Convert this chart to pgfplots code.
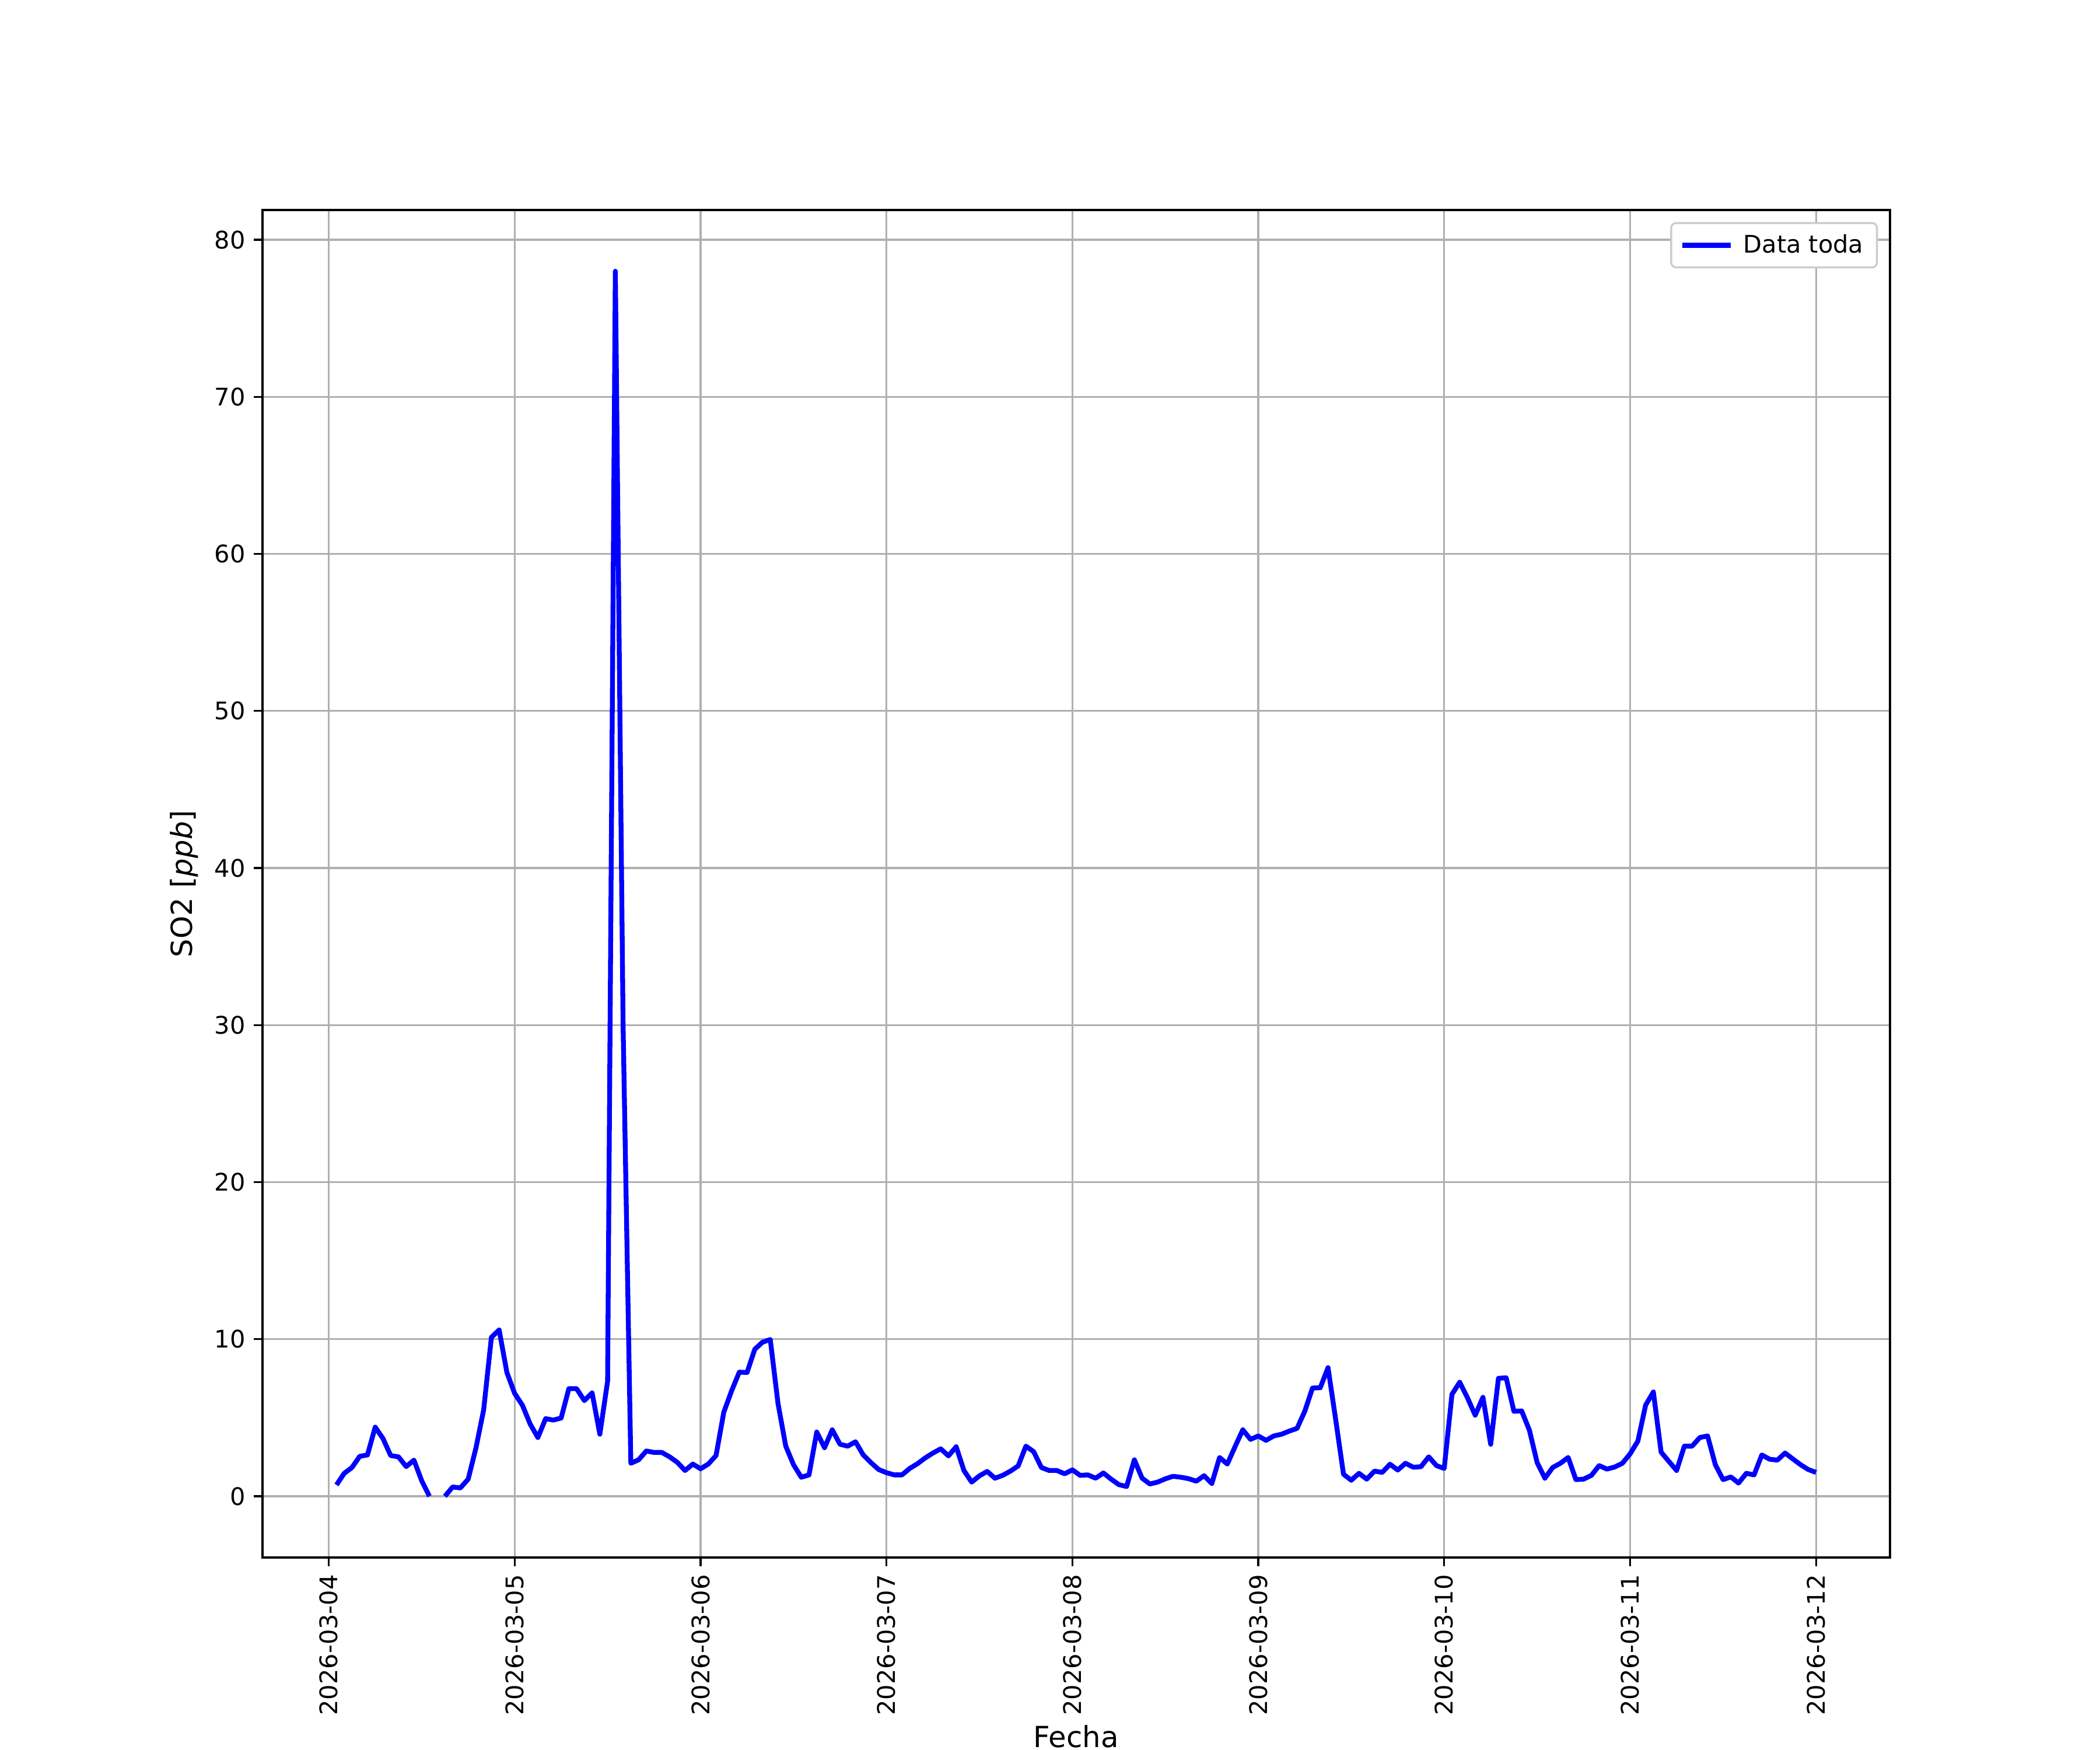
\documentclass[border=0pt]{standalone}
\usepackage{pgfplots}
\pgfplotsset{compat=1.18}
\usepackage{fontspec}
\setmainfont{DejaVu Sans}
\definecolor{gridgray}{HTML}{B0B0B0}
\definecolor{legframe}{HTML}{CCCCCC}
\pgfplotstableread{
h v
1 0.72
2 1.46
3 1.83
4 2.54
5 2.63
6 4.40
7 3.68
8 2.59
9 2.51
10 1.89
11 2.30
12 0.99
13 0.00
14 nan
15 0.00
16 0.59
17 0.53
18 1.09
19 3.06
20 5.50
21 10.12
22 10.59
23 7.88
24 6.55
25 5.80
26 4.60
27 3.74
28 4.94
29 4.85
30 4.98
31 6.85
32 6.85
33 6.09
34 6.58
35 3.95
36 7.32
37 78.0
38 30.0
39 2.10
40 2.32
41 2.88
42 2.79
43 2.79
44 2.51
45 2.16
46 1.64
47 2.05
48 1.75
49 2.05
50 2.59
51 5.35
52 6.70
53 7.90
54 7.88
55 9.36
56 9.81
57 9.98
58 5.90
59 3.19
60 2.01
61 1.21
62 1.36
63 4.09
64 3.09
65 4.23
66 3.31
67 3.19
68 3.47
69 2.63
70 2.14
71 1.70
72 1.50
73 1.36
74 1.36
75 1.77
76 2.07
77 2.44
78 2.75
79 3.02
80 2.57
81 3.15
82 1.64
83 0.90
84 1.30
85 1.58
86 1.15
87 1.33
88 1.60
89 1.93
90 3.19
91 2.84
92 1.83
93 1.64
94 1.64
95 1.43
96 1.68
97 1.33
98 1.36
99 1.15
100 1.48
101 1.09
102 0.74
103 0.62
104 2.32
105 1.15
106 0.78
107 0.90
108 1.11
109 1.27
110 1.21
111 1.12
112 0.96
113 1.31
114 0.81
115 2.47
116 2.05
117 3.16
118 4.23
119 3.62
120 3.84
121 3.56
122 3.84
123 3.95
124 4.15
125 4.32
126 5.41
127 6.89
128 6.91
129 8.19
130 4.85
131 1.40
132 1.02
133 1.46
134 1.09
135 1.60
136 1.52
137 2.04
138 1.67
139 2.10
140 1.85
141 1.88
142 2.51
143 1.95
144 1.77
145 6.49
146 7.26
147 6.27
148 5.16
149 6.30
150 3.31
151 7.51
152 7.54
153 5.41
154 5.43
155 4.20
156 2.14
157 1.15
158 1.83
159 2.10
160 2.47
161 1.06
162 1.09
163 1.33
164 1.95
165 1.73
166 1.86
167 2.10
168 2.70
169 3.51
170 5.80
171 6.64
172 2.81
173 2.22
174 1.64
175 3.19
176 3.19
177 3.74
178 3.84
179 2.01
180 1.06
181 1.23
182 0.84
183 1.46
184 1.36
185 2.63
186 2.36
187 2.30
188 2.75
189 2.38
190 2.01
191 1.70
192 1.52
}\sodata
\begin{document}
\begin{tikzpicture}
\path[use as bounding box] (-1.5in,-1.1in) rectangle (10.5in,8.9in);
\begin{axis}[
  at={(0,0)}, anchor=south west,
  scale only axis, width=9.3in, height=7.7in,
  xmin=-8.55, xmax=201.55, ymin=-3.9, ymax=81.9,
  xtick={0,24,48,72,96,120,144,168,192},
  xticklabels={2026-03-04,2026-03-05,2026-03-06,2026-03-07,2026-03-08,2026-03-09,2026-03-10,2026-03-11,2026-03-12},
  ytick={0,10,20,30,40,50,60,70,80},
  grid=major,
  grid style={color=gridgray, line width=0.8pt},
  axis line style={line width=0.8pt},
  tick style={black, line width=0.8pt},
  tick align=outside, tick pos=left,
  major tick length=3.5pt,
  xticklabel style={rotate=90, anchor=east, font=\fontsize{10}{12}\selectfont},
  yticklabel style={font=\fontsize{10}{12}\selectfont},
  /pgf/number format/assume math mode=true,
  xlabel={Fecha}, ylabel={SO2 [\textit{ppb}]},
  label style={font=\fontsize{12}{13}\selectfont},
  xlabel style={yshift=0.5pt, inner sep=1pt},
  unbounded coords=jump,
  legend cell align=left,
  legend image code/.code={\draw[#1] (0pt,0pt) -- (20pt,0pt);},
  legend style={at={(1,1)}, anchor=north east, xshift=-5pt, yshift=-5pt,
    draw=legframe, line width=0.8pt, rounded corners=2pt,
    font=\fontsize{10}{12}\selectfont, inner xsep=3.6pt, inner ysep=2.6pt},
]
\addplot[color=blue, line width=2pt, line join=round] table[x=h, y=v] {\sodata};
\addlegendentry{\hspace{2.2pt}Data toda}
\end{axis}
\end{tikzpicture}
\end{document}
